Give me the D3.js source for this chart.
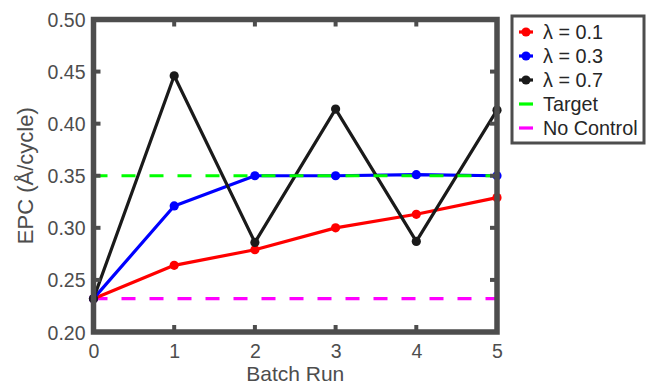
<!DOCTYPE html>
<html><head><meta charset="utf-8">
<script src="https://cdn.jsdelivr.net/npm/d3@7"></script>
<style>body{margin:0;background:#fff}svg{display:block;font-family:"Liberation Sans",Arial,sans-serif}</style>
</head><body><svg id="c" width="648" height="386"></svg>
<script>
const runs = [0, 1, 2, 3, 4, 5];
const lambda01 = [0.232, 0.264, 0.279, 0.300, 0.313, 0.329];
const lambda03 = [0.232, 0.321, 0.350, 0.350, 0.351, 0.350];
const lambda07 = [0.232, 0.446, 0.286, 0.414, 0.287, 0.413];
const targetValue = 0.35;
const noControlValue = 0.232;
const yTicks = [0.20, 0.25, 0.30, 0.35, 0.40, 0.45, 0.50];
const xTicks = [0, 1, 2, 3, 4, 5];
const seriesNames = ["λ = 0.1", "λ = 0.3", "λ = 0.7", "Target", "No Control"];
const seriesColors = ["#ff0000", "#0000ff", "#1a1a1a", "#00ff00", "#ff00ff"];

const svg = d3.select("#c");
const L = 93.5, R = 497, T = 19.5, B = 332;
const x = d3.scaleLinear().domain([0, 5]).range([L, R]);
const y = d3.scaleLinear().domain([0.2, 0.5]).range([B, T]);
const axisCol = "#4d4d4d";

svg.append("line").attr("x1", x(0)).attr("x2", x(5)).attr("y1", y(noControlValue)).attr("y2", y(noControlValue))
  .attr("stroke", seriesColors[4]).attr("stroke-width", 3.2).attr("stroke-dasharray", "14,14");

const line = d3.line().x((d, i) => x(runs[i])).y(d => y(d));
const series = [lambda01, lambda03, lambda07];
series.forEach((s, k) => {
  svg.append("path").attr("d", line(s)).attr("fill", "none")
    .attr("stroke", seriesColors[k]).attr("stroke-width", 3.2).attr("stroke-linejoin", "round");
});
svg.append("line").attr("x1", x(0)).attr("x2", x(5)).attr("y1", y(targetValue)).attr("y2", y(targetValue))
  .attr("stroke", seriesColors[3]).attr("stroke-width", 3.2).attr("stroke-dasharray", "14,14");
series.forEach((s, k) => {
  svg.selectAll(null).data(s).enter().append("circle")
    .attr("cx", (d, i) => x(runs[i])).attr("cy", d => y(d)).attr("r", 4.6)
    .attr("fill", seriesColors[k]);
});

const gx = svg.append("g").attr("transform", `translate(0,${B})`)
  .call(d3.axisBottom(x).tickValues(xTicks).tickFormat(d3.format("d")).tickSize(0).tickPadding(12));
const gy = svg.append("g").attr("transform", `translate(${L},0)`)
  .call(d3.axisLeft(y).tickValues(yTicks).tickFormat(d3.format(".2f")).tickSize(0).tickPadding(8));
[gx, gy].forEach(g => {
  g.select(".domain").remove();
  g.selectAll("text").attr("fill", axisCol).style("font-size", "19.5px");
});
gy.selectAll("text").attr("dy", "0.36em");

const tg = svg.append("g").attr("stroke", axisCol).attr("stroke-width", 4);
xTicks.forEach(t => {
  tg.append("line").attr("x1", x(t)).attr("x2", x(t)).attr("y1", B).attr("y2", B - 7);
  tg.append("line").attr("x1", x(t)).attr("x2", x(t)).attr("y1", T).attr("y2", T + 7);
});
yTicks.forEach(t => {
  tg.append("line").attr("y1", y(t)).attr("y2", y(t)).attr("x1", L).attr("x2", L + 7);
  tg.append("line").attr("y1", y(t)).attr("y2", y(t)).attr("x1", R).attr("x2", R - 7);
});
svg.append("rect").attr("x", L).attr("y", T).attr("width", R - L).attr("height", B - T)
  .attr("fill", "none").attr("stroke", axisCol).attr("stroke-width", 5.5);

svg.append("text").attr("x", (L + R) / 2).attr("y", 381).attr("text-anchor", "middle")
  .attr("fill", axisCol).style("font-size", "21px").text("Batch Run");
svg.append("text").attr("transform", `translate(33,${(T + B) / 2}) rotate(-90)`).attr("text-anchor", "middle")
  .attr("fill", axisCol).style("font-size", "22px").text("EPC (Å/cycle)");

const lg = svg.append("g");
lg.append("rect").attr("x", 512).attr("y", 16).attr("width", 132).attr("height", 127)
  .attr("fill", "#fff").attr("stroke", axisCol).attr("stroke-width", 3);
seriesNames.forEach((n, i) => {
  const yy = 32 + i * 24;
  lg.append("line").attr("x1", 519).attr("x2", 533).attr("y1", yy).attr("y2", yy)
    .attr("stroke", seriesColors[i]).attr("stroke-width", 3.2);
  if (i < 3) lg.append("circle").attr("cx", 526).attr("cy", yy).attr("r", 4.6).attr("fill", seriesColors[i]);
  lg.append("text").attr("x", 543).attr("y", yy).attr("dy", "0.36em").attr("fill", "#262626")
    .style("font-size", "19.8px").text(n);
});
</script></body></html>
